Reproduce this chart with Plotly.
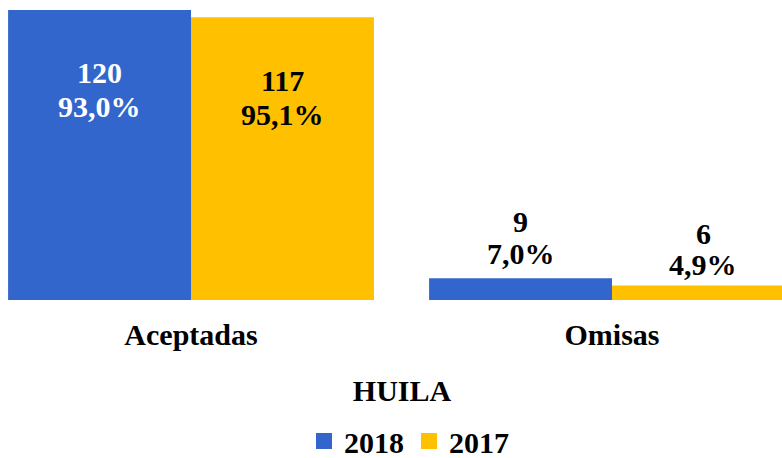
import plotly.graph_objects as go

# Data
categories = ["Aceptadas", "Omisas"]
series_names = ["2018", "2017"]
values_2018 = [120, 9]
values_2017 = [117, 6]
pct_2018 = ["93,0%", "7,0%"]
pct_2017 = ["95,1%", "4,9%"]

colors = {"2018": "#3366CC", "2017": "#FFC000"}
FONT = "Liberation Serif"
BARGAP = 0.131


def bold_font(size, color="black"):
    return dict(family=FONT, size=size, color=color, weight="bold")


fig = go.Figure()
for name, vals in zip(series_names, [values_2018, values_2017]):
    fig.add_trace(go.Bar(
        x=categories, y=vals, name=name, showlegend=False,
        marker=dict(color=colors[name], line=dict(width=0)),
    ))
    # legend entry drawn as a larger square swatch
    fig.add_trace(go.Scatter(
        x=[None], y=[None], mode="markers", name=name,
        marker=dict(symbol="square", size=16, color=colors[name]),
    ))

# Value labels: count on top line, share below
bar_w = (1 - BARGAP) / 2
offsets = [-bar_w / 2, bar_w / 2]
outside_shifts = [(57, 25), (52, 21)]
series = [(values_2018, pct_2018), (values_2017, pct_2017)]
for s, (vals, pcts) in enumerate(series):
    for i, (v, p) in enumerate(zip(vals, pcts)):
        inside = i == 0
        color = "white" if (inside and s == 0) else "black"
        shifts = (-63, -97) if inside else outside_shifts[s]
        for txt, dy in zip((str(v), p), shifts):
            fig.add_annotation(
                x=i + offsets[s], y=v, xref="x", yref="y",
                text=txt, showarrow=False, yanchor="middle", yshift=dy,
                font=bold_font(30, color),
            )

fig.update_layout(
    width=782, height=458,
    margin=dict(l=0, r=0, t=0, b=158),
    paper_bgcolor="white", plot_bgcolor="white",
    barmode="group", bargap=BARGAP, bargroupgap=0,
    xaxis=dict(
        range=[-0.4537, 1.4038], showgrid=False, zeroline=False,
        showline=False, ticks="", ticklabelstandoff=14,
        tickfont=bold_font(30),
    ),
    yaxis=dict(range=[0, 124.1], visible=False),
    title=dict(
        text="HUILA", x=402 / 782, xanchor="center",
        y=1 - 390 / 458, yanchor="middle", yref="container",
        font=bold_font(30),
    ),
    legend=dict(
        orientation="h", x=409 / 782, xanchor="center",
        y=1 - 441 / 458, yanchor="middle", yref="container",
        font=bold_font(30), itemwidth=30, traceorder="normal",
        borderwidth=0, tracegroupgap=0,
    ),
)

fig.write_html("out.html")
